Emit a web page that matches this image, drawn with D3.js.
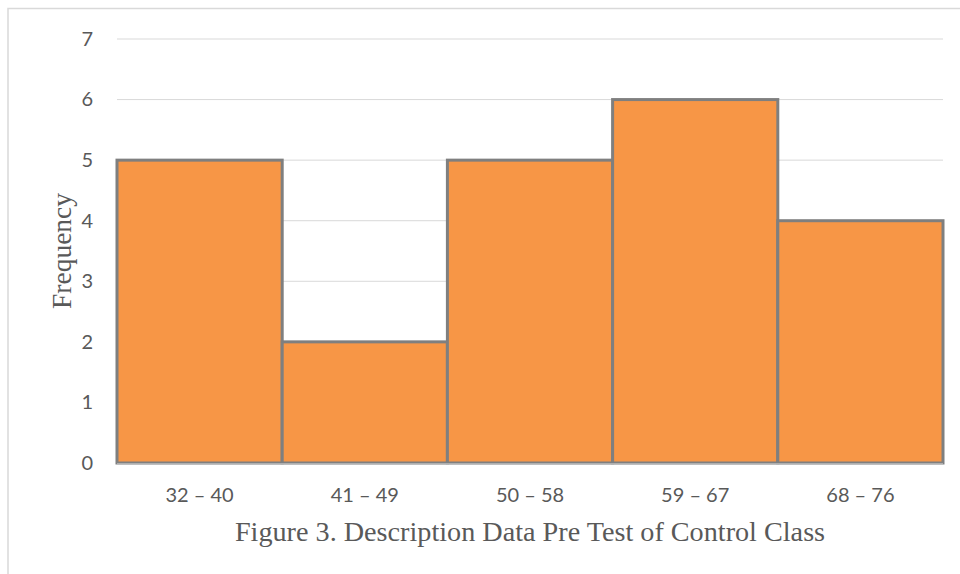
<!DOCTYPE html>
<html>
<head>
<meta charset="utf-8">
<script src="https://cdn.jsdelivr.net/npm/d3@7"></script>
<style>
  body { margin: 0; background: #fff; }
  svg { display: block; }
</style>
</head>
<body>
<script>
var categories = ["32 \u2013 40", "41 \u2013 49", "50 \u2013 58", "59 \u2013 67", "68 \u2013 76"];
var frequency = [5, 2, 5, 6, 4];
var yTicks = [0, 1, 2, 3, 4, 5, 6, 7];
var xTitle = "Figure 3. Description Data Pre Test of Control Class";
var yTitle = "Frequency";

var width = 960, height = 574;
var margin = {left: 117, right: 17, top: 39, bottom: 111};

var svg = d3.select("body").append("svg")
  .attr("width", width).attr("height", height);

// chart border
svg.append("path")
  .attr("d", "M8,574 V8.5 H960")
  .attr("fill", "none")
  .attr("stroke", "#d9d9d9")
  .attr("stroke-width", 1.5);

var x = d3.scaleBand()
  .domain(categories)
  .range([margin.left, width - margin.right])
  .padding(0);

var y = d3.scaleLinear()
  .domain([0, 7])
  .range([height - margin.bottom, margin.top]);

// gridlines
svg.append("g").selectAll("line")
  .data(yTicks.filter(function(d){ return d > 0; }))
  .enter().append("line")
  .attr("x1", margin.left).attr("x2", width - margin.right)
  .attr("y1", function(d){ return y(d); })
  .attr("y2", function(d){ return y(d); })
  .attr("stroke", "#d9d9d9")
  .attr("stroke-width", 1);

// bars
svg.append("g").selectAll("rect")
  .data(frequency)
  .enter().append("rect")
  .attr("x", function(d, i){ return x(categories[i]); })
  .attr("width", x.bandwidth())
  .attr("y", function(d){ return y(d); })
  .attr("height", function(d){ return y(0) - y(d); })
  .attr("fill", "#f79646")
  .attr("stroke", "#7f7f7f")
  .attr("stroke-width", 3);

// baseline
svg.append("line")
  .attr("x1", margin.left).attr("x2", width - margin.right)
  .attr("y1", y(0) + 1).attr("y2", y(0) + 1)
  .attr("stroke", "#bfbfbf")
  .attr("stroke-width", 1.5);

// y axis labels
var yAxis = d3.axisLeft(y).tickValues(yTicks).tickFormat(d3.format("d")).tickSize(0).tickPadding(0);
var yg = svg.append("g")
  .attr("transform", "translate(93,0)")
  .call(yAxis);
yg.select(".domain").remove();
yg.selectAll("text")
  .attr("font-family", "Lato, 'Open Sans', sans-serif")
  .attr("font-size", 20)
  .attr("fill", "#595959");

// x axis labels
var xAxis = d3.axisBottom(x).tickSize(0).tickPadding(0);
var xg = svg.append("g")
  .attr("transform", "translate(0," + (y(0) + 25) + ")")
  .call(xAxis);
xg.select(".domain").remove();
xg.selectAll("text")
  .attr("font-family", "Lato, 'Open Sans', sans-serif")
  .attr("font-size", 20)
  .attr("fill", "#595959");

// axis titles
svg.append("text")
  .attr("x", (margin.left + width - margin.right) / 2)
  .attr("y", 541)
  .attr("text-anchor", "middle")
  .attr("font-family", "'Liberation Serif', 'Times New Roman', serif")
  .attr("font-size", 28.2)
  .attr("fill", "#595959")
  .text(xTitle);

svg.append("text")
  .attr("transform", "translate(71," + ((y(0) + y(7)) / 2) + ") rotate(-90)")
  .attr("text-anchor", "middle")
  .attr("font-family", "'Liberation Serif', 'Times New Roman', serif")
  .attr("font-size", 27.5)
  .attr("fill", "#595959")
  .text(yTitle);
</script>
</body>
</html>
